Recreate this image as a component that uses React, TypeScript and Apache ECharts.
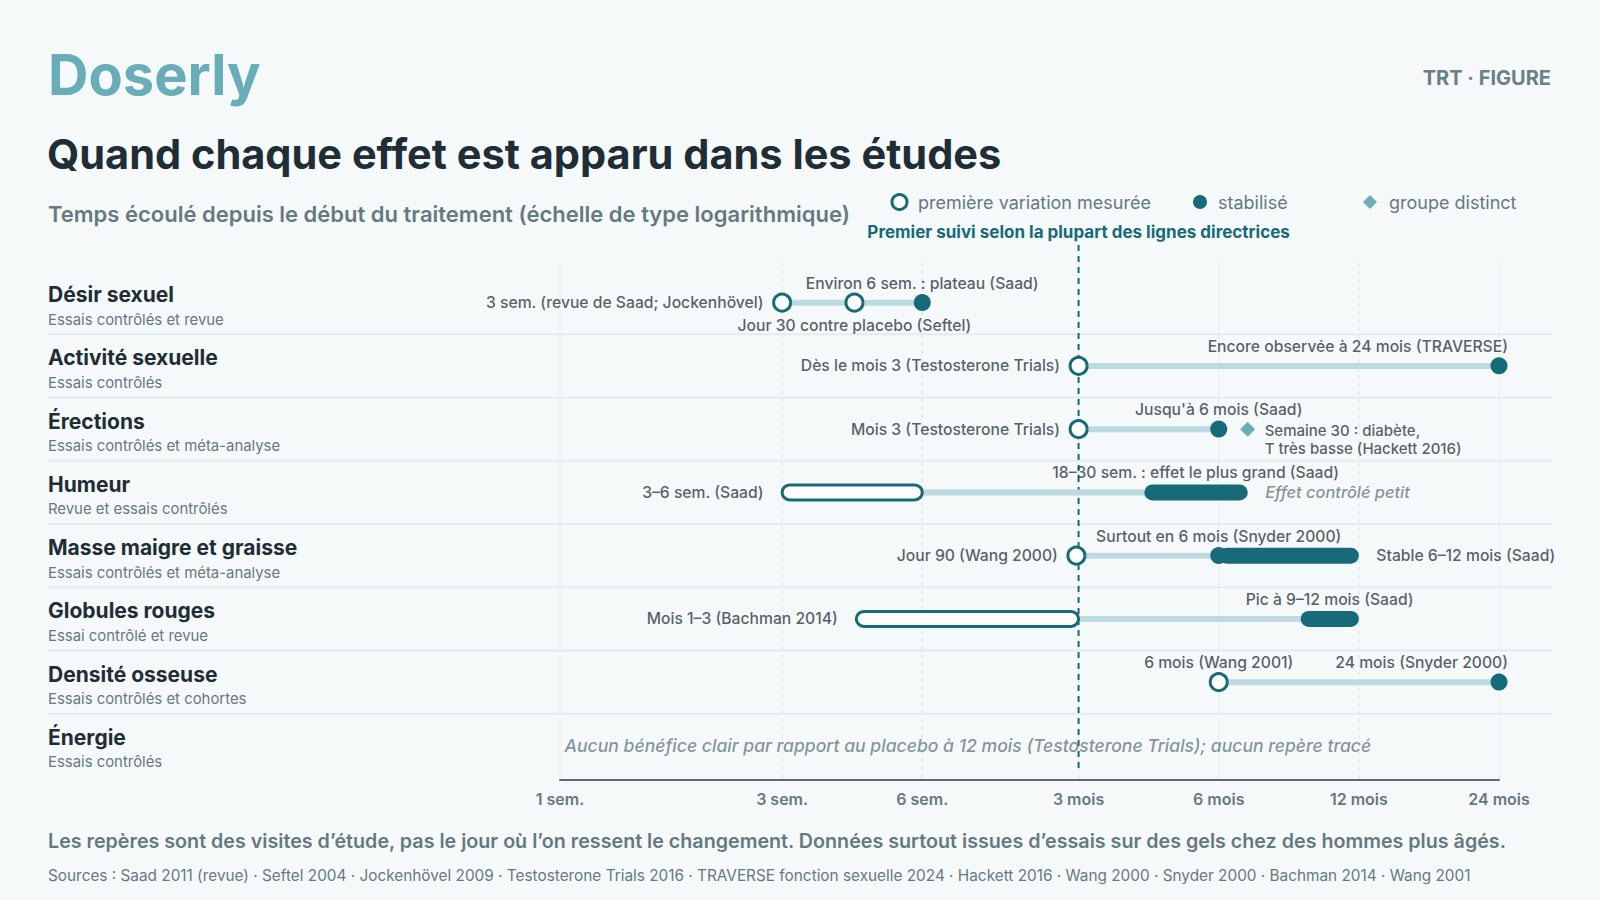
import React, { useEffect, useRef } from "react";
import * as echarts from "echarts";

// ---------- data ----------
const rowTitles = [
  "Désir sexuel",
  "Activité sexuelle",
  "Érections",
  "Humeur",
  "Masse maigre et graisse",
  "Globules rouges",
  "Densité osseuse",
  "Énergie",
];
const rowNotes = [
  "Essais contrôlés et revue",
  "Essais contrôlés",
  "Essais contrôlés et méta-analyse",
  "Revue et essais contrôlés",
  "Essais contrôlés et méta-analyse",
  "Essai contrôlé et revue",
  "Essais contrôlés et cohortes",
  "Essais contrôlés",
];
// time in weeks since start of treatment (log-like axis)
const tickWeeks = [1, 3, 6, 13, 26, 52, 104];
const tickLabels = ["1 sem.", "3 sem.", "6 sem.", "3 mois", "6 mois", "12 mois", "24 mois"];
const guideWeeks = 13;
const guideLabel = "Premier suivi selon la plupart des lignes directrices";

// [row, fromWeeks, toWeeks]
const trackSpans = [
  [0, 3, 6],
  [1, 13, 104],
  [2, 13, 26],
  [3, 3, 30],
  [4, 12.86, 26],
  [5, 4.33, 52],
  [6, 26, 104],
];
const openRanges = [
  [3, 3, 6],
  [5, 4.33, 13],
];
const stableRanges = [
  [3, 18, 30],
  [4, 26, 52],
  [5, 39, 52],
];
// [row, weeks]
const firstChangePoints = [
  [0, 3],
  [0, 4.29],
  [1, 13],
  [2, 13],
  [4, 12.86],
  [6, 26],
];
const stablePoints = [
  [0, 6],
  [1, 104],
  [2, 26],
  [4, 26],
  [6, 104],
];
const distinctPoints = [[2, 30]];

// [row, weeks, text, placement]
const annotations = [
  [0, 3, "3 sem. (revue de Saad; Jockenhövel)", "left"],
  [0, 6, "Environ 6 sem. : plateau (Saad)", "top"],
  [0, 4.29, "Jour 30 contre placebo (Seftel)", "bottom"],
  [1, 13, "Dès le mois 3 (Testosterone Trials)", "left"],
  [1, 104, "Encore observée à 24 mois (TRAVERSE)", "topEnd"],
  [2, 13, "Mois 3 (Testosterone Trials)", "left"],
  [2, 26, "Jusqu'à 6 mois (Saad)", "top"],
  [2, 30, "Semaine 30 : diabète,\nT très basse (Hackett 2016)", "block"],
  [3, 3, "3–6 sem. (Saad)", "left"],
  [3, 23.2, "18–30 sem. : effet le plus grand (Saad)", "top"],
  [3, 30, "Effet contrôlé petit", "note"],
  [4, 12.86, "Jour 90 (Wang 2000)", "left"],
  [4, 26, "Surtout en 6 mois (Snyder 2000)", "top"],
  [4, 52, "Stable 6–12 mois (Saad)", "right"],
  [5, 4.33, "Mois 1–3 (Bachman 2014)", "left"],
  [5, 45, "Pic à 9–12 mois (Saad)", "top"],
  [6, 26, "6 mois (Wang 2001)", "top"],
  [6, 104, "24 mois (Snyder 2000)", "topEnd"],
  [7, 1, "Aucun bénéfice clair par rapport au placebo à 12 mois (Testosterone Trials); aucun repère tracé", "wide"],
];

const legendItems = ["première variation mesurée", "stabilisé", "groupe distinct"];

const brand = "Doserly";
const kicker = "TRT · FIGURE";
const title = "Quand chaque effet est apparu dans les études";
const subtitle = "Temps écoulé depuis le début du traitement (échelle de type logarithmique)";
const footnote =
  "Les repères sont des visites d’étude, pas le jour où l’on ressent le changement. Données surtout issues d’essais sur des gels chez des hommes plus âgés.";
const sources =
  "Sources : Saad 2011 (revue) · Seftel 2004 · Jockenhövel 2009 · Testosterone Trials 2016 · TRAVERSE fonction sexuelle 2024 · Hackett 2016 · Wang 2000 · Snyder 2000 · Bachman 2014 · Wang 2001";

// ---------- style ----------
const FONT = "Inter, 'Noto Sans', sans-serif";
const BG = "#f5f9fa";
const TEAL = "#176a77";
const TRACK = "#bcdadf";
const DISTINCT = "#6aafb5";
const INK = "#1f2e36";
const LABEL_INK = "#2a3840";
const MUTED = "#657980";
const GRID = "#dbe4e7";
const SEP = "#e3ebed";

function txt(text: string, x: number, y: number, size: number, weight: any, fill: string, align = "left", extra: any = {}) {
  return {
    type: "text",
    x,
    y,
    silent: true,
    style: {
      text,
      fill,
      fontSize: size,
      fontWeight: weight,
      fontFamily: FONT,
      align,
      verticalAlign: "middle",
      textAlign: align,
      textVerticalAlign: "middle",
      ...extra,
    },
  };
}

function labelFor(placement: string, text: string) {
  const base: any = {
    show: true,
    formatter: text,
    color: LABEL_INK,
    fontSize: 15.7,
    fontWeight: 500,
    fontFamily: FONT,
  };
  switch (placement) {
    case "left":
      return { ...base, position: "left", distance: 18 };
    case "right":
      return { ...base, position: "right", distance: 17 };
    case "top":
      return { ...base, position: "top", distance: 11 };
    case "bottom":
      return { ...base, position: "bottom", distance: 14 };
    case "topEnd":
      return { ...base, position: [9.5, -11], align: "right", verticalAlign: "bottom" };
    case "block":
      return { ...base, position: [17.5, -7], align: "left", verticalAlign: "top", lineHeight: 18, fontSize: 15 };
    case "note":
      return { ...base, position: "right", distance: 17, color: MUTED, fontStyle: "italic", fontSize: 16.4 };
    case "wide":
      return { ...base, position: "right", distance: 4, color: MUTED, fontStyle: "italic", fontSize: 17.6 };
  }
  return base;
}

export default function App() {
  const ref = useRef<HTMLDivElement>(null);

  useEffect(() => {
    if (!ref.current) return;
    const chart = echarts.init(ref.current, undefined, { renderer: "svg" });

    const rangeRender = (filled: boolean) => (params: any, api: any) => {
      const row = api.value(0);
      const a = api.coord([api.value(1), row]);
      const b = api.coord([api.value(2), row]);
      const h = filled ? 16 : 15;
      return {
        type: "rect",
        shape: { x: a[0], y: a[1] - h / 2, width: b[0] - a[0], height: h, r: h / 2 },
        style: filled
          ? { fill: TEAL }
          : { fill: "#ffffff", stroke: TEAL, lineWidth: 3 },
      };
    };

    const option: any = {
      animation: false,
      backgroundColor: BG,
      textStyle: { fontFamily: FONT },
      grid: { left: 560, right: 101, top: 271, height: 506 },
      xAxis: {
        type: "log",
        logBase: 10,
        min: 1,
        max: 104,
        offset: 3,
        axisLine: { show: true, lineStyle: { color: "#5a6b73", width: 2 } },
        axisTick: { show: false },
        axisLabel: { show: false },
        splitLine: { show: false },
      },
      yAxis: {
        type: "category",
        data: rowTitles,
        inverse: true,
        axisLine: { show: false },
        axisTick: { show: false },
        axisLabel: { show: false },
        splitLine: { show: false },
      },
      graphic: [
        txt(brand, 48, 75, 56, 700, "#68adb7"),
        txt(kicker, 1551, 78, 20, 700, "#6b7f86", "right"),
        txt(title, 47, 154, 41.5, 700, INK),
        txt(subtitle, 48, 214, 22, 600, MUTED),
        {
          type: "circle",
          silent: true,
          shape: { cx: 899.5, cy: 202, r: 7.5 },
          style: { fill: "#ffffff", stroke: TEAL, lineWidth: 3 },
        },
        txt(legendItems[0], 918, 202, 18, 400, MUTED),
        {
          type: "circle",
          silent: true,
          shape: { cx: 1200, cy: 202, r: 7 },
          style: { fill: TEAL },
        },
        txt(legendItems[1], 1218, 202, 18, 400, MUTED),
        {
          type: "polygon",
          silent: true,
          shape: { points: [[1370, 195], [1377, 202], [1370, 209], [1363, 202]] },
          style: { fill: DISTINCT },
        },
        txt(legendItems[2], 1389, 202, 18, 400, MUTED),
        txt(footnote, 48, 841, 19.7, 600, MUTED),
        txt(sources, 48, 875, 15.35, 400, MUTED),
      ],
      series: [
        // tick gridlines + tick labels
        {
          type: "custom",
          silent: true,
          z: 1,
          encode: { x: 0, y: 1 },
          data: tickWeeks.map((w) => [w, 0]),
          renderItem: (params: any, api: any) => {
            const cs = params.coordSys;
            const x = api.coord([api.value(0), 0])[0];
            return {
              type: "group",
              children: [
                {
                  type: "line",
                  shape: { x1: x, y1: cs.y - 8, x2: x, y2: cs.y + cs.height + 2 },
                  style: { stroke: GRID, lineWidth: 1, lineDash: [4, 4] },
                },
                {
                  type: "text",
                  x,
                  y: cs.y + cs.height + 22,
                  style: {
                    text: tickLabels[params.dataIndex],
                    fill: MUTED,
                    fontSize: 16,
                    fontWeight: 600,
                    fontFamily: FONT,
                    align: "center",
                    verticalAlign: "middle",
                    textAlign: "center",
                    textVerticalAlign: "middle",
                  },
                },
              ],
            };
          },
        },
        // row titles and separators
        {
          type: "custom",
          silent: true,
          z: 1,
          encode: { x: 0, y: 1 },
          data: rowTitles.map((_, i) => [1, i]),
          renderItem: (params: any, api: any) => {
            const i = api.value(1);
            const c = api.coord([1, i]);
            const band = api.size([0, 1])[1];
            const children: any[] = [
              {
                type: "text",
                x: 48,
                y: c[1] - 8,
                style: {
                  text: rowTitles[i],
                  fill: INK,
                  fontSize: 21,
                  fontWeight: 700,
                  fontFamily: FONT,
                  align: "left",
                  verticalAlign: "middle",
                  textAlign: "left",
                  textVerticalAlign: "middle",
                },
              },
              {
                type: "text",
                x: 48,
                y: c[1] + 17,
                style: {
                  text: rowNotes[i],
                  fill: MUTED,
                  fontSize: 14.9,
                  fontWeight: 400,
                  fontFamily: FONT,
                  align: "left",
                  verticalAlign: "middle",
                  textAlign: "left",
                  textVerticalAlign: "middle",
                },
              },
            ];
            if (i < rowTitles.length - 1) {
              children.push({
                type: "line",
                shape: { x1: 48, y1: c[1] + band / 2, x2: 1552, y2: c[1] + band / 2 },
                style: { stroke: SEP, lineWidth: 2 },
              });
            }
            return { type: "group", children };
          },
        },
        // guideline at 3 months
        {
          type: "custom",
          silent: true,
          z: 2,
          encode: { x: 0, y: 1 },
          data: [[guideWeeks, 0]],
          renderItem: (params: any, api: any) => {
            const cs = params.coordSys;
            const x = api.coord([api.value(0), 0])[0];
            return {
              type: "group",
              children: [
                {
                  type: "line",
                  shape: { x1: x, y1: cs.y - 26, x2: x, y2: cs.y + cs.height - 5 },
                  style: { stroke: TEAL, lineWidth: 2, lineDash: [6, 5] },
                },
                {
                  type: "text",
                  x,
                  y: cs.y - 39,
                  style: {
                    text: guideLabel,
                    fill: TEAL,
                    fontSize: 17,
                    fontWeight: 700,
                    fontFamily: FONT,
                    align: "center",
                    verticalAlign: "middle",
                    textAlign: "center",
                    textVerticalAlign: "middle",
                  },
                },
              ],
            };
          },
        },
        // light tracks
        {
          type: "custom",
          silent: true,
          z: 3,
          encode: { x: [1, 2], y: 0 },
          data: trackSpans,
          renderItem: (params: any, api: any) => {
            const row = api.value(0);
            const a = api.coord([api.value(1), row]);
            const b = api.coord([api.value(2), row]);
            return {
              type: "rect",
              shape: { x: a[0], y: a[1] - 3, width: b[0] - a[0], height: 6 },
              style: { fill: TRACK },
            };
          },
        },
        // open ranges
        {
          type: "custom",
          silent: true,
          z: 4,
          encode: { x: [1, 2], y: 0 },
          data: openRanges,
          renderItem: rangeRender(false),
        },
        // stable ranges
        {
          type: "custom",
          silent: true,
          z: 4,
          encode: { x: [1, 2], y: 0 },
          data: stableRanges,
          renderItem: rangeRender(true),
        },
        {
          name: legendItems[0],
          type: "scatter",
          silent: true,
          z: 5,
          symbol: "circle",
          symbolSize: 17,
          itemStyle: { color: "#ffffff", borderColor: TEAL, borderWidth: 3, opacity: 1 },
          data: firstChangePoints.map((p) => [p[1], p[0]]),
        },
        {
          name: legendItems[1],
          type: "scatter",
          silent: true,
          z: 5,
          symbol: "circle",
          symbolSize: 17,
          itemStyle: { color: TEAL, opacity: 1 },
          data: stablePoints.map((p) => [p[1], p[0]]),
        },
        {
          name: legendItems[2],
          type: "scatter",
          silent: true,
          z: 5,
          symbol: "diamond",
          symbolSize: 15,
          itemStyle: { color: DISTINCT, opacity: 1 },
          data: distinctPoints.map((p) => [p[1], p[0]]),
        },
        // annotations
        {
          type: "scatter",
          silent: true,
          z: 6,
          symbol: "circle",
          symbolSize: 1,
          itemStyle: { color: "rgba(0,0,0,0)" },
          labelLayout: { hideOverlap: false },
          data: annotations.map((a: any) => ({
            value: [a[1], a[0]],
            label: labelFor(a[3], a[2]),
          })),
        },
      ],
    };

    chart.setOption(option);
    return () => chart.dispose();
  }, []);

  return (
    <div
      ref={ref}
      style={{ position: "fixed", left: 0, top: 0, width: 1600, height: 900, background: BG }}
    />
  );
}
